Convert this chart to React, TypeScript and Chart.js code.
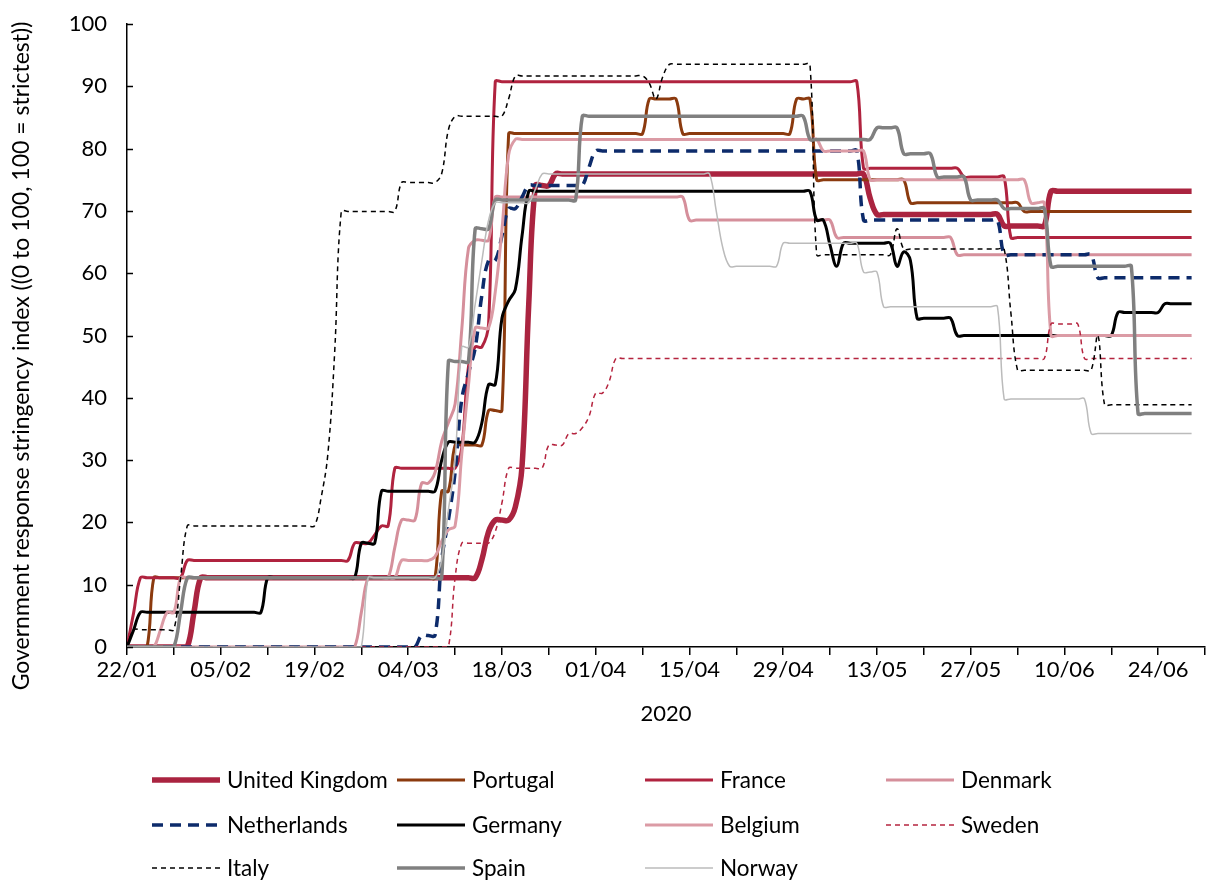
import React, { useEffect, useRef } from "react";
import { Chart, registerables } from "chart.js";

Chart.register(...registerables);

const FONT = "Lato, 'Open Sans', sans-serif";

// Day 0 = 22/01/2020 ... day 159 = 29/06/2020; axis runs to 01/07 (day 161)
const DAY_COUNT = 160;
const X_MAX = 161;
const xTickLabels = ["22/01", "05/02", "19/02", "04/03", "18/03", "01/04", "15/04", "29/04", "13/05", "27/05", "10/06", "24/06"];
const yTickValues = [0, 10, 20, 30, 40, 50, 60, 70, 80, 90, 100];
const xTitle = "2020";
const yTitle = "Government response stringency index ((0 to 100, 100 = strictest))";

// Each series: [day from which the index takes this value, value]
const unitedKingdom = [[0, 0], [10, 5.56], [11, 11.11], [53, 14], [54, 18.5], [55, 20.37], [58, 22.5], [59, 29], [60, 55], [61, 74.07], [64, 75.93], [111, 72], [112, 69.44], [131, 67.59], [138, 73.15]];
const portugal = [[0, 0], [4, 11.11], [47, 25], [49, 32.41], [54, 37.96], [57, 82.41], [78, 87.96], [83, 82.41], [100, 87.96], [103, 75], [117, 71.3], [134, 69.91]];
const france = [[0, 0], [1, 5.56], [2, 11.11], [9, 13.89], [34, 16.67], [37, 18], [38, 19.44], [40, 28.7], [50, 32], [51, 45], [52, 48.15], [54, 51.85], [55, 90.74], [110, 76.85], [125, 75.46], [132, 65.74]];
const denmark = [[0, 0], [35, 5.56], [36, 11.11], [40, 16], [41, 20.37], [44, 26.3], [46, 28], [47, 33], [48, 36], [49, 39], [50, 51], [51, 64], [52, 65.3], [55, 72.22], [84, 68.52], [106, 65.74], [124, 62.96]];
const netherlands = [[0, 0], [44, 1.85], [47, 14], [48, 20.37], [49, 28], [50, 39.8], [51, 44], [52, 48], [53, 56.5], [54, 62.04], [56, 66], [57, 70.37], [59, 72.22], [60, 74.07], [69, 77], [70, 79.63], [110, 68.52], [131, 62.96], [145, 59.26]];
const germany = [[0, 0], [1, 2.78], [2, 5.56], [21, 11.11], [35, 16.67], [38, 25], [47, 30], [48, 32.87], [53, 36], [54, 42.13], [56, 52.78], [57, 55.56], [58, 57.41], [59, 66], [60, 73.15], [103, 68.52], [105, 64.5], [106, 61.11], [107, 64.81], [115, 61.11], [116, 63.43], [117, 62.04], [118, 52.78], [124, 50], [148, 53.7], [155, 55.09]];
const belgium = [[0, 0], [5, 2.78], [6, 5.56], [8, 11.11], [41, 13.89], [46, 14.5], [47, 17], [48, 18.8], [49, 19.44], [50, 31], [51, 42], [52, 51.2], [55, 57], [56, 67], [57, 79], [58, 81.48], [104, 79.63], [111, 75], [135, 71.3], [138, 50]];
const sweden = [[0, 0], [49, 11.11], [50, 16.67], [55, 18.5], [56, 23.15], [57, 28.7], [63, 32.41], [66, 34.26], [68, 35.19], [69, 37], [70, 40.74], [72, 42.59], [73, 46.3], [138, 51.85], [143, 46.3]];
const italy = [[0, 0], [1, 2.78], [8, 11.11], [9, 19.44], [29, 24], [30, 31], [31, 47], [32, 69.91], [41, 74.54], [47, 76], [48, 83], [49, 85.19], [57, 88], [58, 91.67], [78, 90.5], [79, 87.96], [80, 91.5], [81, 93.52], [103, 62.96], [115, 67.13], [116, 63.89], [132, 53.7], [133, 44.44], [145, 50], [146, 38.89]];
const spain = [[0, 0], [8, 5.56], [9, 11.11], [48, 45.83], [52, 67.13], [55, 71.76], [68, 85.19], [102, 81.48], [112, 83.33], [116, 79.17], [121, 75.46], [126, 71.76], [131, 70.37], [138, 61.11], [151, 37.5]];
const norway = [[0, 0], [36, 11.11], [47, 14], [48, 22], [49, 30], [50, 48.15], [52, 55], [53, 62], [54, 68.5], [55, 71.3], [61, 73.5], [62, 75.93], [88, 70], [89, 64], [90, 61.11], [98, 64.81], [110, 60.19], [113, 54.63], [131, 39.81], [144, 34.26]];

const seriesNames = ["United Kingdom", "Portugal", "France", "Denmark", "Netherlands", "Germany", "Belgium", "Sweden", "Italy", "Spain", "Norway"];
const seriesSteps = [unitedKingdom, portugal, france, denmark, netherlands, germany, belgium, sweden, italy, spain, norway];

const seriesStyles = [
  { color: "#AA2440", width: 5.5, dash: [] as number[] },
  { color: "#8B3A0E", width: 3, dash: [] as number[] },
  { color: "#B0233F", width: 3, dash: [] as number[] },
  { color: "#D58F9B", width: 3, dash: [] as number[] },
  { color: "#0D2B6B", width: 3.5, dash: [11, 7] },
  { color: "#000000", width: 3, dash: [] as number[] },
  { color: "#DB9BA5", width: 3, dash: [] as number[] },
  { color: "#B5243F", width: 1.5, dash: [5, 4] },
  { color: "#000000", width: 1.5, dash: [5, 4] },
  { color: "#808080", width: 3.5, dash: [] as number[] },
  { color: "#BBBBBB", width: 1.5, dash: [] as number[] },
];

function toDaily(steps: number[][]) {
  const pts: { x: number; y: number }[] = [];
  let k = 0;
  let v = steps[0][1];
  for (let d = 0; d < DAY_COUNT; d++) {
    while (k < steps.length && steps[k][0] <= d) {
      v = steps[k][1];
      k++;
    }
    pts.push({ x: d, y: v });
  }
  return pts;
}

const extrasPlugin = {
  id: "extras",
  afterDraw(chart: any) {
    const ctx = chart.ctx as CanvasRenderingContext2D;
    const y = chart.scales.y;
    const area = chart.chartArea;
    ctx.save();
    ctx.strokeStyle = "#000";
    ctx.lineWidth = 1.5;
    ctx.setLineDash([]);
    yTickValues.forEach((v) => {
      const py = Math.round(y.getPixelForValue(v)) + 0.5;
      ctx.beginPath();
      ctx.moveTo(area.left, py);
      ctx.lineTo(area.left + 6, py);
      ctx.stroke();
    });
    ctx.fillStyle = "#000";
    ctx.font = `23px ${FONT}`;
    ctx.textAlign = "center";
    ctx.textBaseline = "middle";
    ctx.translate(22, 356);
    ctx.rotate(-Math.PI / 2);
    ctx.fillText(yTitle, 0, 0);
    ctx.restore();

    ctx.save();
    const colX = [152, 397, 645, 886];
    const rowY = [780, 825, 868];
    const lineLen = 68;
    ctx.font = `22.5px ${FONT}`;
    ctx.textBaseline = "middle";
    ctx.textAlign = "left";
    chart.data.datasets.forEach((ds: any, i: number) => {
      const cx = colX[i % 4];
      const cy = rowY[Math.floor(i / 4)];
      ctx.strokeStyle = ds.borderColor;
      ctx.lineWidth = ds.borderWidth;
      ctx.setLineDash(ds.borderDash || []);
      ctx.lineCap = "butt";
      ctx.beginPath();
      ctx.moveTo(cx, cy);
      ctx.lineTo(cx + lineLen, cy);
      ctx.stroke();
      ctx.setLineDash([]);
      ctx.fillStyle = "#000";
      ctx.fillText(ds.label, cx + lineLen + 7, cy + 1);
    });
    ctx.restore();
  },
};

export default function App() {
  const ref = useRef<HTMLCanvasElement>(null);

  useEffect(() => {
    const datasets = seriesNames.map((name, i) => ({
      label: name,
      data: toDaily(seriesSteps[i]),
      borderColor: seriesStyles[i].color,
      backgroundColor: seriesStyles[i].color,
      borderWidth: seriesStyles[i].width,
      borderDash: seriesStyles[i].dash,
      pointRadius: 0,
      tension: 0.4,
      fill: false,
      order: 20 - i,
    }));

    const chart = new Chart(ref.current!, {
      type: "line",
      data: { datasets },
      options: {
        animation: false,
        responsive: false,
        devicePixelRatio: 1,
        layout: { padding: { top: 24, right: 1, bottom: 144, left: 0 } },
        plugins: { legend: { display: false }, tooltip: { enabled: false } },
        scales: {
          x: {
            type: "linear",
            min: 0,
            max: X_MAX,
            afterBuildTicks: (s: any) => {
              const t = [];
              for (let v = 0; v <= X_MAX; v += 7) t.push({ value: v });
              s.ticks = t;
            },
            afterFit: (s: any) => {
              s.height = 90;
              s.paddingLeft = 0;
              s.paddingRight = 0;
            },
            ticks: {
              autoSkip: false,
              maxRotation: 0,
              color: "#000",
              padding: 2,
              font: { family: FONT, size: 22 },
              callback: (v: any) => (v % 14 === 0 ? xTickLabels[v / 14] ?? "" : ""),
            },
            grid: { display: true, drawOnChartArea: false, drawTicks: true, tickLength: 8, color: "#000", lineWidth: 1.5 },
            border: { display: true, color: "#000", width: 1.5 },
            title: { display: true, text: xTitle, color: "#000", font: { family: FONT, size: 22 }, padding: { top: 0, bottom: 10 } },
          },
          y: {
            min: 0,
            max: 100,
            afterBuildTicks: (s: any) => {
              s.ticks = yTickValues.map((v) => ({ value: v }));
            },
            afterFit: (s: any) => {
              s.width = 127;
              s.paddingTop = 0;
              s.paddingBottom = 0;
            },
            ticks: { color: "#000", padding: 20, font: { family: FONT, size: 22 } },
            grid: { display: false, drawTicks: false },
            border: { display: true, color: "#000", width: 1.5 },
          },
        },
      },
      plugins: [extrasPlugin],
    });
    return () => chart.destroy();
  }, []);

  return (
    <div style={{ position: "absolute", left: 0, top: 0, width: 1206, height: 881, background: "#fff" }}>
      <canvas ref={ref} width={1206} height={881} style={{ width: 1206, height: 881, display: "block" }} />
    </div>
  );
}
